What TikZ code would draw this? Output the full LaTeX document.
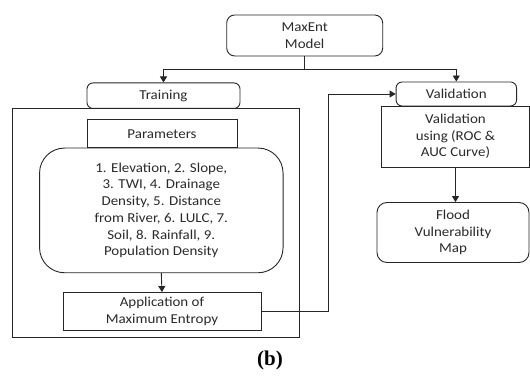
\documentclass[tikz,border=0pt]{standalone}
\usepackage{fontspec}
\setmainfont[FakeStretch=1.1]{Carlito}
\newfontfamily\capfont{Liberation Serif}
\usetikzlibrary{arrows.meta,calc}
\definecolor{txt}{HTML}{2A2A2A}
\definecolor{ln}{HTML}{262626}
\begin{document}
\begin{tikzpicture}[x=1pt,y=-1pt,
  base/.style={draw=ln, line width=0.9pt, text=txt, inner sep=0pt, align=center,
     font=\fontsize{13.6}{16.7}\selectfont},
  rbox/.style={base, rounded corners=#1},
  sbox/.style={base},
  arr/.style={draw=ln, line width=0.9pt, -{Triangle[length=6pt,width=7pt]}},
  con/.style={draw=ln, line width=0.9pt}]
\useasboundingbox (0,0) rectangle (530,379);
\node[rbox=8pt, minimum width=156pt, minimum height=41pt] (maxent) at (304.7,35.5) {MaxEnt\\Model};
\node[rbox=6pt, minimum width=153pt, minimum height=25.5pt] (train) at (163.5,95.7) {Training};
\node[sbox, minimum width=287pt, minimum height=229pt] (outer) at (155.9,222.9) {};
\node[sbox, minimum width=150pt, minimum height=28.5pt] (params) at (162,133.7) {Parameters};
\node[rbox=25pt, minimum width=243.5pt, minimum height=124.7pt] (factors) at (161.3,210.4)
  {1. Elevation, 2. Slope,\\3. TWI, 4. Drainage\\Density, 5. Distance\\from River, 6. LULC, 7.\\Soil, 8. Rainfall, 9.\\Population Density};
\node[sbox, minimum width=198pt, minimum height=38pt] (app) at (162,311.5) {Application of\\Maximum Entropy};
\node[rbox=6pt, minimum width=120.5pt, minimum height=24pt] (valid) at (456.3,94) {Validation};
\node[sbox, minimum width=148pt, minimum height=61pt] (vusing) at (455.5,136.5) {Validation\\using (ROC \&\\AUC Curve)};
\node[rbox=10pt, minimum width=152pt, minimum height=60pt] (flood) at (453,232.5) {Flood\\Vulnerability\\Map};
\node[text=black, font=\capfont\bfseries\fontsize{21}{24}\selectfont, inner sep=0pt] (cap) at (270,360) {(b)};
\coordinate (split) at (304.7,69);
\coordinate (turn) at (328,0);
\draw[con] (maxent.south) -- (split);
\draw[arr] (split) -| (train.north);
\draw[arr] (split) -| (valid.north);
\draw[arr] (factors.south) -- (app.north);
\draw[arr] (vusing.south) -- (vusing.south |- flood.north);
\draw[arr] (app.east) -- (turn |- app.east) -- (turn |- valid.west) -- (valid.west);
\end{tikzpicture}
\end{document}
